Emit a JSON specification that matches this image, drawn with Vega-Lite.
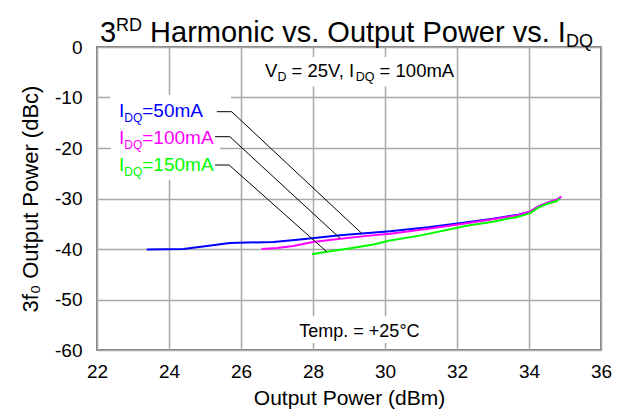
{
  "$schema": "https://vega.github.io/schema/vega-lite/v6.json",
  "autosize": {"type": "none"},
  "padding": {"left": 97, "top": 47, "right": 32, "bottom": 67},
  "width": 504,
  "height": 303,
  "background": "white",
  "config": {
    "font": "Liberation Sans",
    "view": {"stroke": "#808080", "strokeWidth": 2},
    "axis": {"grid": true, "gridColor": "#a8a8a8", "gridWidth": 1.5, "domain": false, "ticks": false, "labelColor": "#000000", "titleColor": "#000000", "labelFont": "Liberation Sans", "titleFont": "Liberation Sans", "titleFontWeight": "normal", "labelFlush": false, "labelOverlap": false, "labelBound": false}
  },
  "datasets": {
    "curves": [
      {"series": "50mA", "x": 23.38, "y": -40.1}, {"series": "50mA", "x": 24.4, "y": -40.0}, {"series": "50mA", "x": 25.0, "y": -39.45}, {"series": "50mA", "x": 25.69, "y": -38.8}, {"series": "50mA", "x": 26.9, "y": -38.6}, {"series": "50mA", "x": 27.64, "y": -38.1}, {"series": "50mA", "x": 28.75, "y": -37.3}, {"series": "50mA", "x": 30.14, "y": -36.5}, {"series": "50mA", "x": 31.2, "y": -35.7}, {"series": "50mA", "x": 32.17, "y": -34.8}, {"series": "50mA", "x": 33.0, "y": -34.0}, {"series": "50mA", "x": 33.7, "y": -33.2}, {"series": "50mA", "x": 34.03, "y": -32.6}, {"series": "50mA", "x": 34.26, "y": -31.6}, {"series": "50mA", "x": 34.49, "y": -30.95}, {"series": "50mA", "x": 34.77, "y": -30.3}, {"series": "50mA", "x": 34.86, "y": -29.8},
      {"series": "100mA", "x": 26.57, "y": -40.0}, {"series": "100mA", "x": 27.0, "y": -39.8}, {"series": "100mA", "x": 27.45, "y": -39.4}, {"series": "100mA", "x": 28.0, "y": -38.6}, {"series": "100mA", "x": 28.7, "y": -38.0}, {"series": "100mA", "x": 29.5, "y": -37.4}, {"series": "100mA", "x": 30.14, "y": -37.0}, {"series": "100mA", "x": 31.2, "y": -36.0}, {"series": "100mA", "x": 32.18, "y": -35.0}, {"series": "100mA", "x": 33.0, "y": -34.1}, {"series": "100mA", "x": 33.7, "y": -33.3}, {"series": "100mA", "x": 34.03, "y": -32.6}, {"series": "100mA", "x": 34.26, "y": -31.6}, {"series": "100mA", "x": 34.49, "y": -30.9}, {"series": "100mA", "x": 34.77, "y": -30.2}, {"series": "100mA", "x": 34.9, "y": -29.6},
      {"series": "150mA", "x": 27.97, "y": -41.05}, {"series": "150mA", "x": 28.43, "y": -40.5}, {"series": "150mA", "x": 29.0, "y": -39.9}, {"series": "150mA", "x": 29.68, "y": -39.1}, {"series": "150mA", "x": 30.14, "y": -38.3}, {"series": "150mA", "x": 31.0, "y": -37.3}, {"series": "150mA", "x": 32.27, "y": -35.4}, {"series": "150mA", "x": 33.0, "y": -34.6}, {"series": "150mA", "x": 33.7, "y": -33.6}, {"series": "150mA", "x": 34.03, "y": -32.9}, {"series": "150mA", "x": 34.26, "y": -31.8}, {"series": "150mA", "x": 34.49, "y": -31.1}, {"series": "150mA", "x": 34.77, "y": -30.5}, {"series": "150mA", "x": 34.86, "y": -30.0}
    ],
    "callouts": [
      {"series": "50mA", "x": 25.33, "y": -12.81, "x2": 25.74, "y2": -12.81},
      {"series": "50mA", "x": 25.74, "y": -12.81, "x2": 29.35, "y2": -36.89},
      {"series": "100mA", "x": 25.28, "y": -17.76, "x2": 25.69, "y2": -17.76},
      {"series": "100mA", "x": 25.69, "y": -17.76, "x2": 28.75, "y2": -37.88},
      {"series": "150mA", "x": 25.28, "y": -23.37, "x2": 25.67, "y2": -23.37},
      {"series": "150mA", "x": 25.67, "y": -23.37, "x2": 28.38, "y2": -40.53}
    ],
    "boxes": [
      {"x": 22.36, "x2": 25.72, "y": -9.5, "y2": -15.0},
      {"x": 22.39, "x2": 25.42, "y": -15.0, "y2": -20.4},
      {"x": 22.39, "x2": 25.58, "y": -20.4, "y2": -26.3},
      {"x": 26.56, "x2": 31.94, "y": -2.0, "y2": -7.8},
      {"x": 27.47, "x2": 31.11, "y": -53.3, "y2": -58.6}
    ],
    "labels": [
      {"series": "50mA", "name": "=50mA", "x": 22.61, "y": -13.86},
      {"series": "100mA", "name": "=100mA", "x": 22.61, "y": -19.21},
      {"series": "150mA", "name": "=150mA", "x": 22.61, "y": -24.55}
    ],
    "notes": [
      {"key": "t1", "text": "3", "x": 22.08, "y": 1.05},
      {"key": "t2", "text": "RD", "x": 22.08, "y": 1.05},
      {"key": "t3", "text": "Harmonic vs. Output Power vs. I", "x": 22.08, "y": 1.05},
      {"key": "t4", "text": "DQ", "x": 22.08, "y": 1.05},
      {"key": "v1", "text": "V", "x": 26.67, "y": -5.88},
      {"key": "v2", "text": "D", "x": 26.67, "y": -5.88},
      {"key": "v3", "text": "= 25V, I", "x": 26.67, "y": -5.88},
      {"key": "v4", "text": "DQ", "x": 26.67, "y": -5.88},
      {"key": "v5", "text": "= 100mA", "x": 26.67, "y": -5.88},
      {"key": "temp", "text": "Temp. = +25°C", "x": 29.29, "y": -57.49}
    ]
  },
  "encoding": {
    "x": {"field": "x", "type": "quantitative", "scale": {"domain": [22, 36], "nice": false, "zero": false},
      "axis": {"values": [22, 24, 26, 28, 30, 32, 34, 36], "labelFontSize": 19, "labelPadding": 12, "title": "Output Power (dBm)", "titleFontSize": 21, "titlePadding": 6}},
    "y": {"field": "y", "type": "quantitative", "scale": {"domain": [-60, 0], "nice": false, "zero": false},
      "axis": {"values": [-60, -50, -40, -30, -20, -10, 0], "labelExpr": "datum.value < 0 ? '-' + abs(datum.value) : '' + datum.value", "labelFontSize": 19, "labelPadding": 15, "title": "3f₀ Output Power (dBc)", "titleFontSize": 22, "titlePadding": 12}}
  },
  "layer": [
    {"data": {"name": "boxes"}, "mark": {"type": "rect", "fill": "white", "strokeWidth": 0},
      "encoding": {"x2": {"field": "x2"}, "y2": {"field": "y2"}}},
    {"data": {"name": "curves"}, "mark": {"type": "line", "strokeWidth": 2},
      "encoding": {"color": {"field": "series", "type": "nominal", "scale": {"domain": ["50mA", "100mA", "150mA"], "range": ["#0000ff", "#ff00ff", "#00ff00"]}, "legend": null}}},
    {"data": {"name": "callouts"}, "mark": {"type": "rule", "color": "#000000", "strokeWidth": 1},
      "encoding": {"x2": {"field": "x2"}, "y2": {"field": "y2"}}},
    {"data": {"name": "labels"}, "mark": {"type": "text", "align": "left", "baseline": "alphabetic", "fontSize": 19, "dx": 0},
      "encoding": {"text": {"value": "I"}, "color": {"field": "series", "type": "nominal", "legend": null}}},
    {"data": {"name": "labels"}, "mark": {"type": "text", "align": "left", "baseline": "alphabetic", "fontSize": 12, "dx": 5.3, "dy": 5},
      "encoding": {"text": {"value": "DQ"}, "color": {"field": "series", "type": "nominal", "legend": null}}},
    {"data": {"name": "labels"}, "mark": {"type": "text", "align": "left", "baseline": "alphabetic", "fontSize": 19, "dx": 23.3},
      "encoding": {"text": {"field": "name"}, "color": {"field": "series", "type": "nominal", "legend": null}}},
    {"data": {"name": "notes"}, "transform": [{"filter": "datum.key == 't1'"}], "mark": {"type": "text", "align": "left", "baseline": "alphabetic", "fontSize": 29, "dx": 0, "color": "#000000"}, "encoding": {"text": {"field": "text"}}},
    {"data": {"name": "notes"}, "transform": [{"filter": "datum.key == 't2'"}], "mark": {"type": "text", "align": "left", "baseline": "alphabetic", "fontSize": 18, "dx": 16.1, "dy": -11, "color": "#000000"}, "encoding": {"text": {"field": "text"}}},
    {"data": {"name": "notes"}, "transform": [{"filter": "datum.key == 't3'"}], "mark": {"type": "text", "align": "left", "baseline": "alphabetic", "fontSize": 29, "dx": 50.2, "color": "#000000"}, "encoding": {"text": {"field": "text"}}},
    {"data": {"name": "notes"}, "transform": [{"filter": "datum.key == 't4'"}], "mark": {"type": "text", "align": "left", "baseline": "alphabetic", "fontSize": 18, "dx": 466, "dy": 5, "color": "#000000"}, "encoding": {"text": {"field": "text"}}},
    {"data": {"name": "notes"}, "transform": [{"filter": "datum.key == 'v1'"}], "mark": {"type": "text", "align": "left", "baseline": "alphabetic", "fontSize": 18.5, "dx": 0, "color": "#000000"}, "encoding": {"text": {"field": "text"}}},
    {"data": {"name": "notes"}, "transform": [{"filter": "datum.key == 'v2'"}], "mark": {"type": "text", "align": "left", "baseline": "alphabetic", "fontSize": 12.5, "dx": 12.3, "dy": 4, "color": "#000000"}, "encoding": {"text": {"field": "text"}}},
    {"data": {"name": "notes"}, "transform": [{"filter": "datum.key == 'v3'"}], "mark": {"type": "text", "align": "left", "baseline": "alphabetic", "fontSize": 18.5, "dx": 26.4, "color": "#000000"}, "encoding": {"text": {"field": "text"}}},
    {"data": {"name": "notes"}, "transform": [{"filter": "datum.key == 'v4'"}], "mark": {"type": "text", "align": "left", "baseline": "alphabetic", "fontSize": 12.5, "dx": 90.7, "dy": 4, "color": "#000000"}, "encoding": {"text": {"field": "text"}}},
    {"data": {"name": "notes"}, "transform": [{"filter": "datum.key == 'v5'"}], "mark": {"type": "text", "align": "left", "baseline": "alphabetic", "fontSize": 18.5, "dx": 114.5, "color": "#000000"}, "encoding": {"text": {"field": "text"}}},
    {"data": {"name": "notes"}, "transform": [{"filter": "datum.key == 'temp'"}], "mark": {"type": "text", "align": "center", "baseline": "alphabetic", "fontSize": 18, "color": "#000000"}, "encoding": {"text": {"field": "text"}}}
  ]
}
